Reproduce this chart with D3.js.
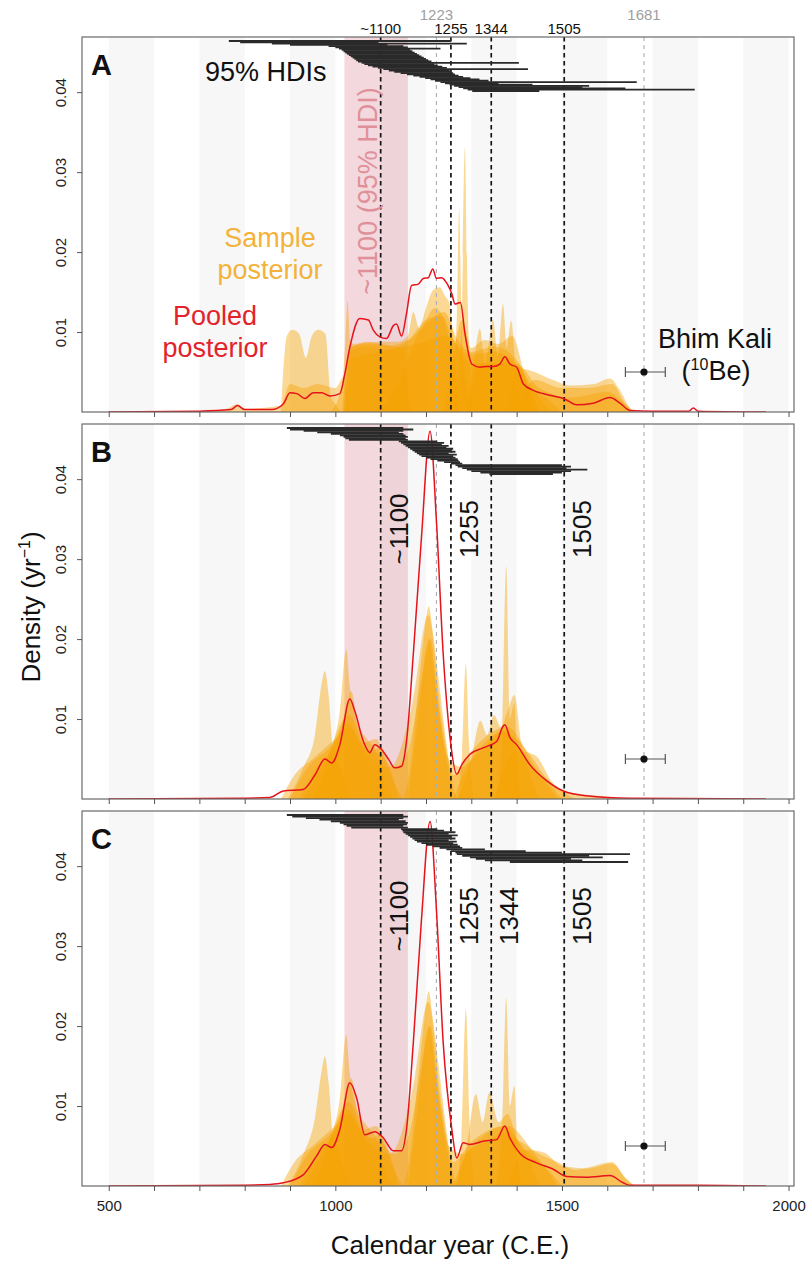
<!DOCTYPE html>
<html>
<head>
<meta charset="utf-8">
<script src="https://cdn.jsdelivr.net/npm/d3@7"></script>
<style>
  body { margin: 0; background: #fff; }
  svg { display: block; }
  text { font-family: "Liberation Sans", Arial, Helvetica, sans-serif; }
</style>
</head>
<body>
<svg id="chart" width="808" height="1261"></svg>
<script>
// ---------- data ----------
const panelLabels = ["A", "B", "C"];
const xTickYears = [500, 600, 700, 800, 900, 1000, 1100, 1200, 1300, 1400, 1500, 1600, 1700, 1800, 1900, 2000];
const xTickLabels = [500, 1000, 1500, 2000];
const yTicks = [0.01, 0.02, 0.03, 0.04];
const centuryStripes = [[500, 600], [700, 800], [900, 1000], [1100, 1200], [1300, 1400], [1500, 1600], [1700, 1800], [1900, 2000]];
const hdiBand = [1020, 1160];
const eventYears = [1100, 1255, 1344, 1505];
const eventNames = ["~1100", "1255", "1344", "1505"];
const faintYears = [1223, 1681];
const faintNames = ["1223", "1681"];
const bhimKali = [1640, 1681, 1728, 0.005];   // lower, mean, upper, plotted height

// pooled posterior density (year, density)
const pooledA = [[500,0],[700,0.0001],[770,0.0003],[784,0.0008],[800,0.0003],[860,0.0003],[885,0.001],[900,0.0024],[915,0.0023],[933,0.0017],[951,0.0024],[970,0.0024],[988,0.002],[1010,0.0023],[1021,0.0048],[1032,0.0081],[1054,0.0117],[1073,0.0115],[1084,0.0102],[1098,0.0094],[1113,0.0092],[1128,0.0108],[1135,0.011],[1146,0.0095],[1157,0.0123],[1168,0.0158],[1183,0.016],[1194,0.0167],[1205,0.0168],[1215,0.0179],[1223,0.0167],[1234,0.0168],[1249,0.0158],[1257,0.0148],[1264,0.0135],[1276,0.0137],[1286,0.0098],[1301,0.006],[1319,0.0056],[1334,0.0057],[1348,0.0057],[1363,0.006],[1374,0.0069],[1385,0.006],[1400,0.0056],[1415,0.0035],[1437,0.0027],[1473,0.0021],[1507,0.0016],[1532,0.0009],[1569,0.0011],[1606,0.0018],[1628,0.0011],[1650,0.0002],[1700,0.0001],[1780,0.0001],[1790,0.0005],[1800,0.0001],[1950,0]];
const pooledB = [[500,0],[800,0.0001],[856,0.0002],[885,0.001],[929,0.0012],[955,0.003],[977,0.005],[992,0.0045],[1010,0.0068],[1032,0.0125],[1043,0.011],[1062,0.0072],[1076,0.0058],[1087,0.0068],[1102,0.0062],[1117,0.005],[1131,0.0039],[1146,0.0041],[1157,0.0072],[1172,0.0181],[1190,0.0327],[1209,0.046],[1223,0.0348],[1238,0.0181],[1253,0.0077],[1268,0.0031],[1279,0.0043],[1297,0.0056],[1326,0.0064],[1356,0.0072],[1370,0.0091],[1374,0.0093],[1385,0.0077],[1400,0.0068],[1429,0.0043],[1466,0.0023],[1503,0.001],[1554,0.0004],[1650,0.0001],[1950,0]];
const pooledC = [[500,0],[800,0.0001],[856,0.0002],[885,0.0004],[929,0.0014],[958,0.0037],[977,0.0052],[992,0.0048],[1010,0.0071],[1032,0.0129],[1047,0.011],[1065,0.0064],[1087,0.0068],[1106,0.006],[1128,0.0044],[1146,0.0044],[1157,0.0071],[1172,0.0179],[1190,0.0333],[1209,0.0456],[1223,0.0346],[1238,0.0179],[1257,0.0071],[1268,0.0035],[1282,0.0054],[1297,0.0052],[1326,0.0056],[1356,0.0058],[1374,0.0075],[1385,0.006],[1407,0.0041],[1444,0.0029],[1481,0.0021],[1510,0.0012],[1554,0.0011],[1606,0.0013],[1635,0.0004],[1650,0.0001],[1800,0.0001],[1950,0]];

// individual sample posteriors (year, density)
const samplesA = [
  [[880,0],[893,0.0095],[905,0.0103],[920,0.0098],[935,0.0068],[948,0.0095],[962,0.0103],[978,0.0098],[990,0.002],[1000,0.001],[1012,0]],
  [[990,0],[1015,0.0035],[1022,0.009],[1027,0.0139],[1033,0.009],[1040,0.0085],[1070,0.0088],[1100,0.0085],[1130,0.0082],[1150,0.008],[1162,0.002],[1172,0]],
  [[1255,0],[1270,0.004],[1279,0.012],[1286,0.0331],[1292,0.014],[1300,0.003],[1310,0]],
  [[1240,0],[1260,0.005],[1268,0.012],[1273,0.0254],[1279,0.01],[1290,0.003],[1300,0]],
  [[1290,0],[1305,0.006],[1319,0.0104],[1330,0.006],[1348,0.0115],[1358,0.007],[1370,0.0135],[1378,0.008],[1388,0.0114],[1398,0.005],[1410,0]],
  [[1020,0],[1035,0.008],[1060,0.0086],[1100,0.0088],[1140,0.0088],[1160,0.0095],[1172,0.0125],[1185,0.0105],[1200,0.013],[1215,0.0152],[1230,0.0156],[1242,0.0145],[1252,0.0135],[1262,0.008],[1272,0.002],[1282,0]],
  [[1100,0],[1150,0.005],[1180,0.0095],[1210,0.0115],[1240,0.0125],[1270,0.009],[1300,0.0075],[1350,0.0082],[1400,0.0065],[1430,0.0035],[1460,0.001],[1480,0]],
  [[1380,0],[1400,0.0055],[1430,0.0052],[1480,0.004],[1520,0.0033],[1570,0.0035],[1606,0.0042],[1625,0.003],[1650,0.0005],[1660,0]],
  [[700,0],[760,0.0004],[784,0.001],[800,0.0004],[880,0.0008],[900,0.0035],[930,0.003],[960,0.0035],[1000,0.003],[1020,0.0045],[1030,0]],
  [[1020,0],[1030,0.0075],[1070,0.0082],[1110,0.0078],[1150,0.0085],[1190,0.0105],[1220,0.013],[1240,0.0115],[1260,0.006],[1275,0]],
  [[1240,0],[1260,0.007],[1280,0.0115],[1300,0.008],[1330,0.009],[1360,0.0085],[1390,0.0095],[1420,0.004],[1440,0]],
  [[1290,0],[1320,0.006],[1400,0.006],[1450,0.003],[1520,0.0018],[1600,0.0025],[1640,0.001],[1660,0]],
  [[1025,0],[1035,0.0082],[1080,0.0085],[1120,0.0083],[1160,0.009],[1200,0.0115],[1235,0.012],[1260,0.009],[1300,0.0072],[1350,0.0075],[1400,0.006],[1430,0.003],[1450,0]],
  [[1015,0],[1030,0.0065],[1100,0.0075],[1180,0.0085],[1250,0.0095],[1300,0.006],[1380,0.0062],[1420,0.0035],[1470,0.0015],[1500,0]],
  [[1400,0],[1440,0.004],[1500,0.003],[1560,0.003],[1610,0.0035],[1640,0.001],[1655,0]]
];
const samplesB = [
  [[895,0],[930,0.004],[955,0.008],[970,0.0145],[977,0.016],[985,0.013],[995,0.006],[1010,0.004],[1030,0]],
  [[950,0],[990,0.006],[1010,0.011],[1024,0.0187],[1032,0.014],[1045,0.01],[1070,0.0075],[1090,0.006],[1110,0.002],[1130,0]],
  [[920,0],[960,0.004],[1000,0.007],[1025,0.0115],[1035,0.0135],[1050,0.009],[1080,0.006],[1100,0.0065],[1120,0.004],[1140,0]],
  [[880,0],[910,0.003],[950,0.005],[980,0.0065],[1000,0.0075],[1030,0.009],[1060,0.007],[1090,0.0075],[1110,0.005],[1130,0.002],[1150,0]],
  [[1150,0],[1165,0.004],[1180,0.012],[1195,0.02],[1206,0.0241],[1215,0.021],[1230,0.014],[1245,0.007],[1258,0.002],[1270,0]],
  [[1160,0],[1180,0.009],[1200,0.018],[1210,0.02],[1225,0.013],[1245,0.005],[1260,0]],
  [[1270,0],[1280,0.006],[1288,0.0169],[1295,0.007],[1305,0]],
  [[1355,0],[1368,0.008],[1377,0.0291],[1385,0.01],[1395,0.012],[1402,0.004],[1410,0]],
  [[1270,0],[1300,0.005],[1320,0.0098],[1335,0.008],[1350,0.0105],[1365,0.009],[1380,0.011],[1395,0.013],[1410,0.007],[1430,0.003],[1450,0]],
  [[1260,0],[1290,0.004],[1330,0.0065],[1370,0.0085],[1400,0.0075],[1430,0.0055],[1460,0.003],[1500,0.001],[1530,0]],
  [[1350,0],[1400,0.006],[1440,0.0055],[1480,0.002],[1520,0.0008],[1600,0.0003],[1650,0]],
  [[900,0],[940,0.004],[990,0.0065],[1030,0.0095],[1060,0.0065],[1100,0.0055],[1130,0.004],[1160,0.006],[1190,0.015],[1206,0.02],[1225,0.012],[1250,0.005],[1280,0.004],[1320,0.0065],[1370,0.0085],[1420,0.005],[1470,0.002],[1500,0]],
  [[930,0],[980,0.005],[1030,0.0105],[1070,0.0055],[1120,0.004],[1170,0.012],[1205,0.023],[1235,0.01],[1260,0.003],[1300,0.006],[1380,0.009],[1440,0.004],[1490,0]]
];
const samplesC = [
  [[895,0],[930,0.004],[955,0.0085],[970,0.0145],[977,0.0162],[985,0.013],[995,0.006],[1010,0.004],[1030,0]],
  [[950,0],[990,0.006],[1010,0.011],[1024,0.0189],[1032,0.014],[1045,0.01],[1070,0.0075],[1090,0.006],[1110,0.002],[1130,0]],
  [[920,0],[960,0.004],[1000,0.007],[1025,0.0115],[1035,0.0135],[1050,0.009],[1080,0.006],[1100,0.0065],[1120,0.004],[1140,0]],
  [[880,0],[910,0.003],[950,0.005],[980,0.0065],[1000,0.0075],[1030,0.009],[1060,0.007],[1090,0.0075],[1110,0.005],[1130,0.002],[1150,0]],
  [[1150,0],[1165,0.004],[1180,0.012],[1195,0.02],[1206,0.0244],[1215,0.021],[1230,0.014],[1245,0.007],[1258,0.002],[1270,0]],
  [[1160,0],[1180,0.009],[1200,0.018],[1210,0.02],[1225,0.013],[1245,0.005],[1260,0]],
  [[1268,0],[1278,0.006],[1288,0.0221],[1296,0.008],[1306,0]],
  [[1355,0],[1368,0.008],[1377,0.0235],[1385,0.01],[1395,0.0125],[1402,0.004],[1410,0]],
  [[1265,0],[1290,0.005],[1310,0.0115],[1325,0.008],[1340,0.0117],[1360,0.008],[1380,0.009],[1400,0.006],[1430,0.003],[1450,0]],
  [[1260,0],[1290,0.004],[1330,0.0055],[1370,0.0065],[1410,0.0055],[1450,0.004],[1490,0.003],[1530,0.002],[1570,0.0025],[1610,0.003],[1640,0.001],[1660,0]],
  [[1380,0],[1420,0.0045],[1460,0.0042],[1500,0.0025],[1560,0.0022],[1610,0.0028],[1640,0.001],[1660,0]],
  [[900,0],[940,0.004],[990,0.0065],[1030,0.0095],[1060,0.0065],[1100,0.0055],[1130,0.004],[1160,0.006],[1190,0.015],[1206,0.02],[1225,0.012],[1250,0.005],[1280,0.004],[1320,0.006],[1370,0.0075],[1420,0.0045],[1470,0.002],[1500,0]],
  [[930,0],[980,0.005],[1030,0.0105],[1070,0.0055],[1120,0.004],[1170,0.012],[1205,0.023],[1235,0.01],[1260,0.003],[1300,0.0055],[1380,0.0075],[1440,0.004],[1490,0]]
];

// 95% highest density intervals (start, end), top row first
const hdiA = [[765,1255],[790,1095],[860,1290],[900,1115],[985,1150],[1000,1160],[1008,1232],[1014,1165],[1018,1170],[1022,1175],[1026,1180],[1030,1185],[1034,1190],[1038,1195],[1042,1200],[1046,1205],[1050,1212],[1058,1405],[1064,1218],[1072,1226],[1082,1236],[1094,1246],[1106,1425],[1118,1252],[1130,1256],[1144,1260],[1158,1264],[1172,1272],[1186,1282],[1198,1298],[1210,1318],[1220,1338],[1232,1665],[1242,1360],[1252,1435],[1262,1560],[1272,1545],[1282,1640],[1292,1793],[1302,1450]];
const hdiB = [[893,1150],[900,1172],[930,1150],[960,1140],[990,1150],[1010,1155],[1018,1160],[1022,1155],[1030,1160],[1140,1225],[1145,1240],[1150,1235],[1155,1250],[1160,1245],[1165,1260],[1170,1255],[1175,1265],[1180,1250],[1185,1268],[1190,1260],[1200,1265],[1210,1270],[1225,1272],[1240,1275],[1255,1280],[1265,1500],[1270,1520],[1280,1510],[1290,1556],[1300,1520],[1320,1500],[1340,1480]];
const hdiC = [[893,1150],[905,1160],[935,1150],[965,1140],[990,1155],[1010,1160],[1018,1158],[1025,1150],[1035,1160],[1145,1225],[1148,1240],[1150,1265],[1155,1250],[1160,1270],[1165,1255],[1170,1265],[1175,1250],[1180,1268],[1190,1260],[1200,1270],[1215,1275],[1230,1280],[1245,1330],[1255,1420],[1265,1500],[1268,1650],[1280,1560],[1297,1590],[1310,1520],[1330,1545],[1385,1646]];

const panelEvents = [[], [0, 1, 3], [0, 1, 2, 3]];   // indices into eventYears labelled inside each panel

// ---------- layout ----------
const svg = d3.select("#chart");
const left = 82, right = 794, panelH = 375;
const panelTops = [37, 424, 811];
const x = d3.scaleLinear().domain([441, 2012]).range([left, right]);
const font = '"Liberation Sans", Arial, Helvetica, sans-serif';

const panels = [
  { samples: samplesA, pooled: pooledA, hdi: hdiA, hdiRows: [4, 54] },
  { samples: samplesB, pooled: pooledB, hdi: hdiB, hdiRows: [4, 50] },
  { samples: samplesC, pooled: pooledC, hdi: hdiC, hdiRows: [4, 51] }
];

panels.forEach((p, i) => {
  const top = panelTops[i];
  const y = d3.scaleLinear().domain([0, 0.0469]).range([top + panelH, top]);
  const g = svg.append("g");

  const clipId = "clip" + i;
  svg.append("clipPath").attr("id", clipId)
    .append("rect").attr("x", left).attr("y", top).attr("width", right - left).attr("height", panelH);
  const inner = g.append("g").attr("clip-path", `url(#${clipId})`);

  // century stripes
  inner.selectAll("rect.stripe").data(centuryStripes).join("rect")
    .attr("class", "stripe")
    .attr("x", d => x(d[0])).attr("width", d => x(d[1]) - x(d[0]))
    .attr("y", top).attr("height", panelH)
    .attr("fill", "#f7f7f7");

  // ~1100 event window
  inner.append("rect")
    .attr("x", x(hdiBand[0])).attr("width", x(hdiBand[1]) - x(hdiBand[0]))
    .attr("y", top).attr("height", panelH)
    .attr("fill", "rgb(222,150,162)").attr("fill-opacity", 0.36);

  // sample posteriors
  const area = d3.area().x(d => x(d[0])).y0(y(0)).y1(d => y(d[1])).curve(d3.curveMonotoneX);
  inner.selectAll("path.sample").data(p.samples).join("path")
    .attr("class", "sample")
    .attr("d", area)
    .attr("fill", "#f6a100").attr("fill-opacity", 0.42);

  // event lines
  inner.selectAll("line.event").data(eventYears).join("line")
    .attr("class", "event")
    .attr("x1", d => x(d)).attr("x2", d => x(d))
    .attr("y1", top).attr("y2", top + panelH)
    .attr("stroke", "#151515").attr("stroke-width", 1.7).attr("stroke-dasharray", "4.5,3.5");
  inner.selectAll("line.faint").data(faintYears).join("line")
    .attr("class", "faint")
    .attr("x1", d => x(d)).attr("x2", d => x(d))
    .attr("y1", top).attr("y2", top + panelH)
    .attr("stroke", "#a8aeb4").attr("stroke-width", 1.1).attr("stroke-dasharray", "4,4");

  // pooled posterior
  const line = d3.line().x(d => x(d[0])).y(d => y(d[1])).curve(d3.curveMonotoneX);
  inner.append("path").datum(p.pooled)
    .attr("d", line).attr("fill", "none")
    .attr("stroke", "#e5141c").attr("stroke-width", 1.5);

  // HDI bars
  const rowY = d3.scaleLinear().domain([0, p.hdi.length - 1]).range([top + p.hdiRows[0], top + p.hdiRows[1]]);
  inner.selectAll("line.hdi").data(p.hdi).join("line")
    .attr("class", "hdi")
    .attr("x1", d => x(d[0])).attr("x2", d => x(d[1]))
    .attr("y1", (d, k) => rowY(k)).attr("y2", (d, k) => rowY(k))
    .attr("stroke", "#2a2a2a").attr("stroke-width", 1.8);

  // Bhim Kali 10Be age
  const by = y(bhimKali[3]);
  const eb = g.append("g").attr("stroke", "#555").attr("stroke-width", 1.2);
  eb.append("line").attr("x1", x(bhimKali[0])).attr("x2", x(bhimKali[2])).attr("y1", by).attr("y2", by);
  eb.append("line").attr("x1", x(bhimKali[0])).attr("x2", x(bhimKali[0])).attr("y1", by - 5).attr("y2", by + 5);
  eb.append("line").attr("x1", x(bhimKali[2])).attr("x2", x(bhimKali[2])).attr("y1", by - 5).attr("y2", by + 5);
  g.append("circle").attr("cx", x(bhimKali[1])).attr("cy", by).attr("r", 3.6).attr("fill", "#111");

  // frame
  g.append("rect").attr("x", left).attr("y", top).attr("width", right - left).attr("height", panelH)
    .attr("fill", "none").attr("stroke", "#6a6a6a").attr("stroke-width", 1.2);

  // y axis
  const ya = g.append("g").attr("transform", `translate(${left},0)`)
    .call(d3.axisLeft(y).tickValues(yTicks).tickSize(5).tickFormat(d3.format(".2f")));
  ya.select(".domain").remove();
  ya.selectAll(".tick line").attr("stroke", "#555");
  ya.selectAll(".tick text")
    .attr("x", null).attr("dy", null)
    .attr("transform", "translate(-16,0) rotate(-90)")
    .attr("text-anchor", "middle")
    .attr("font-family", font).attr("font-size", 15).attr("fill", "#222");

  // x axis
  const xa = g.append("g").attr("transform", `translate(0,${top + panelH})`)
    .call(d3.axisBottom(x).tickValues(xTickYears).tickSize(5).tickPadding(9)
      .tickFormat(d => (i === 2 && xTickLabels.includes(d)) ? d : ""));
  xa.select(".domain").remove();
  xa.selectAll(".tick line").attr("stroke", "#555");
  xa.selectAll(".tick text").attr("font-family", font).attr("font-size", 15).attr("fill", "#222");

  // panel letter
  g.append("text").attr("x", 91).attr("y", top + 38)
    .attr("font-size", 29).attr("font-weight", "bold").attr("fill", "#111")
    .text(panelLabels[i]);

  // rotated event labels
  panelEvents[i].forEach(k => {
    g.append("text")
      .attr("transform", `translate(${x(eventYears[k]) + 27},${top + 105}) rotate(-90)`)
      .attr("text-anchor", "middle").attr("font-size", 26).attr("fill", "#111")
      .text(eventNames[k]);
  });
});

// ---------- annotations for panel A ----------
const ann = svg.append("g").attr("font-family", font);
eventYears.forEach((d, k) => {
  ann.append("text").attr("x", x(d)).attr("y", 34).attr("text-anchor", "middle")
    .attr("font-size", 15).attr("fill", "#111").text(eventNames[k]);
});
faintYears.forEach((d, k) => {
  ann.append("text").attr("x", x(d)).attr("y", 20).attr("text-anchor", "middle")
    .attr("font-size", 15).attr("fill", "#a0a0a0").text(faintNames[k]);
});

ann.append("text").attr("x", 205).attr("y", 81).attr("font-size", 27).attr("fill", "#111").text("95% HDIs");

ann.append("text")
  .attr("transform", `translate(${x(1100) - 4},191) rotate(-90)`)
  .attr("text-anchor", "middle").attr("font-size", 27).attr("fill", "#e0909a")
  .text("~1100 (95% HDI)");

ann.append("text").attr("x", 270).attr("y", 247).attr("text-anchor", "middle")
  .attr("font-size", 27).attr("fill", "#f3b23a").text("Sample");
ann.append("text").attr("x", 270).attr("y", 279).attr("text-anchor", "middle")
  .attr("font-size", 27).attr("fill", "#f3b23a").text("posterior");
ann.append("text").attr("x", 215).attr("y", 325).attr("text-anchor", "middle")
  .attr("font-size", 27).attr("fill", "#e3232b").text("Pooled");
ann.append("text").attr("x", 215).attr("y", 357).attr("text-anchor", "middle")
  .attr("font-size", 27).attr("fill", "#e3232b").text("posterior");

ann.append("text").attr("x", 715).attr("y", 348).attr("text-anchor", "middle")
  .attr("font-size", 27).attr("fill", "#111").text("Bhim Kali");
const be = ann.append("text").attr("x", 716).attr("y", 380).attr("text-anchor", "middle")
  .attr("font-size", 27).attr("fill", "#111");
be.append("tspan").text("(");
be.append("tspan").attr("font-size", 16).attr("dy", -10).text("10");
be.append("tspan").attr("dy", 10).text("Be)");

// axis titles
svg.append("text").attr("x", 450).attr("y", 1254).attr("text-anchor", "middle")
  .attr("font-family", font).attr("font-size", 26).attr("fill", "#111")
  .text("Calendar year (C.E.)");
const yt = svg.append("text")
  .attr("transform", "translate(40,607) rotate(-90)")
  .attr("text-anchor", "middle").attr("font-family", font).attr("font-size", 26).attr("fill", "#111");
yt.append("tspan").text("Density (yr");
yt.append("tspan").attr("font-size", 16).attr("dy", -10).text("−1");
yt.append("tspan").attr("dy", 10).text(")");
</script>
</body>
</html>
